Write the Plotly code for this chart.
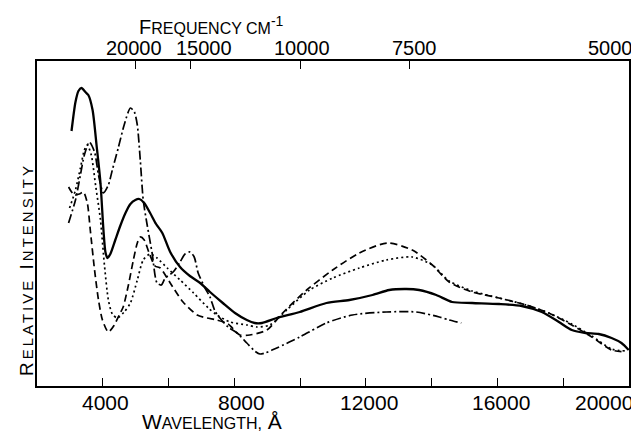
import plotly.graph_objects as go

# ---------------- data ----------------
# wavelength in Angstrom, relative intensity in arbitrary units
solid_wl = [3050, 3170, 3260, 3350, 3470, 3560, 3690, 3810, 3930, 4020, 4080, 4140, 4230, 4380,
            4530, 4690, 4840, 4990, 5110, 5260, 5440, 5620, 5810, 6050, 6350, 6650, 6960, 7260,
            7650, 8020, 8380, 8620, 8840, 9290, 9990, 10800, 11500, 12200, 12710, 13230, 13620,
            14140, 14620, 15230, 16050, 16740, 17350, 17870, 18260, 18680, 19080, 19470, 19770, 19990]
solid_int = [255, 284, 295, 298, 294, 291, 276, 241, 203, 156, 134, 128, 132, 146,
             160, 173, 182, 186, 187, 183, 173, 162, 153, 134, 119, 110, 103, 94,
             83, 73, 66, 63, 63, 68, 74, 83, 86, 91, 96, 97, 96,
             91, 84, 83, 82, 80, 74, 64, 56, 53, 52, 48, 43, 36]

dotted_wl = [2990, 3170, 3320, 3440, 3530, 3650, 3780, 3930, 4050, 4170, 4290, 4440, 4650, 4840,
             5050, 5230, 5440, 5650, 5960, 6350, 6760, 7210, 7470, 7870, 8380, 8680, 9080, 9590,
             10290, 10990, 11800, 12620, 13410, 14020, 14530, 15230, 16050, 16870, 17560, 18260,
             18870, 19470, 19900]
dotted_int = [178, 196, 218, 236, 241, 231, 201, 166, 121, 86, 72, 68, 74, 83,
              106, 126, 132, 128, 118, 106, 93, 78, 71, 64, 61, 59, 61, 76,
              96, 108, 118, 126, 129, 121, 105, 95, 88, 81, 73, 62,
              50, 37, 35]

dashed_wl = [2960, 3130, 3290, 3410, 3530, 3620, 3750, 3870, 3990, 4170, 4350, 4500, 4620, 4780,
             4930, 5050, 5140, 5260, 5410, 5590, 5750, 6050, 6440, 6870, 7170, 7470, 7810, 8170,
             8470, 8990, 9470, 10200, 10990, 11800, 12650, 13410, 14020, 14530, 15230, 16050,
             16870, 17560, 18260, 18870, 19470, 19900]
dashed_int = [199, 191, 192, 194, 183, 156, 116, 86, 66, 54, 61, 71, 79, 101,
              126, 143, 149, 146, 133, 120, 118, 103, 84, 71, 68, 66, 62, 51,
              51, 56, 73, 96, 116, 133, 143, 136, 121, 104, 94, 88,
              81, 73, 61, 49, 36, 34]

dashdot_wl = [2960, 3170, 3320, 3440, 3590, 3750, 3870, 4020, 4170, 4290, 4470, 4650, 4840, 4960,
              5050, 5140, 5230, 5350, 5500, 5650, 5780, 5900, 6140, 6350, 6500, 6650, 6780, 6900,
              7110, 7260, 7410, 7560, 7810, 8080, 8380, 8620, 8780, 8930, 9290, 9990, 10800,
              11590, 12620, 13530, 14230, 14530, 14900]
dashdot_int = [163, 186, 211, 231, 244, 234, 211, 193, 201, 216, 238, 261, 278, 274,
               261, 226, 186, 161, 133, 103, 101, 108, 114, 124, 132, 134, 129, 113,
               98, 89, 75, 68, 59, 53, 43, 35, 32, 33, 38, 49, 63,
               71, 74, 74, 69, 66, 63]

# axis ticks
wavelength_ticks = [4000, 6000, 8000, 10000, 12000, 14000, 16000, 18000, 20000]
wavelength_labels = [4000, 8000, 12000, 16000, 20000]
frequency_labels = [20000, 15000, 10000, 7500, 5000]   # cm^-1

# ---------------- styling ----------------
FONT = "Liberation Sans"
X_RANGE = [2000, 20000]
Y_RANGE = [0, 325]
bottom_label_shift = [3, 7, 3, 4, -25]     # px nudges of tick labels
top_label_shift = [-2, 14, 2, 5, -19]

fig = go.Figure()
series = [
    (solid_wl, solid_int, "solid", 2.3),
    (dotted_wl, dotted_int, "2px,3px", 1.7),
    (dashed_wl, dashed_int, "7px,4px", 1.7),
    (dashdot_wl, dashdot_int, "9px,3px,2px,3px", 1.7),
]
for wl, it, dash, w in series:
    fig.add_trace(go.Scatter(x=wl, y=it, mode="lines", showlegend=False, hoverinfo="skip",
                             line=dict(color="black", width=w, dash=dash,
                                       shape="spline", smoothing=0.7)))
# empty trace so the top (frequency) axis is drawn
fig.add_trace(go.Scatter(x=[None], y=[None], xaxis="x2", yaxis="y", showlegend=False,
                         mode="lines"))

freq_positions = [1e8 / f for f in frequency_labels]

annotations = []
for v, s in zip(wavelength_labels, bottom_label_shift):
    annotations.append(dict(x=v, y=-0.052, xref="x", yref="paper", text=str(v),
                            showarrow=False, xanchor="center", yanchor="middle", xshift=s,
                            font=dict(family=FONT, size=21, color="black")))
for f, p, s in zip(frequency_labels, freq_positions, top_label_shift):
    annotations.append(dict(x=p, y=1.04, xref="x", yref="paper", text=str(f),
                            showarrow=False, xanchor="center", yanchor="middle", xshift=s,
                            font=dict(family=FONT, size=20, color="black")))

small = "font-size:16px"
annotations.append(dict(x=0.296, y=-0.108, xref="paper", yref="paper", showarrow=False,
                        xanchor="center", yanchor="middle",
                        text=f"W<span style='{small}'>AVELENGTH,</span> Å",
                        font=dict(family=FONT, size=21, color="black")))
annotations.append(dict(x=0.295, y=1.108, xref="paper", yref="paper", showarrow=False,
                        xanchor="center", yanchor="middle",
                        text=f"F<span style='{small}'>REQUENCY CM</span><sup>-1</sup>",
                        font=dict(family=FONT, size=20, color="black")))
annotations.append(dict(x=-0.0168, y=0.357, xref="paper", yref="paper", showarrow=False,
                        xanchor="center", yanchor="middle", textangle=-90,
                        text=("<span style='letter-spacing:3px'>R<span style='font-size:15px'>ELATIVE</span> "
                              "I<span style='font-size:15px'>NTENSITY</span></span>"),
                        font=dict(family=FONT, size=19, color="black")))

# the page body has an 8px margin, so the figure is sized/offset to compensate
fig.update_layout(
    width=631, height=425,
    margin=dict(l=29, r=8, t=53, b=47),
    paper_bgcolor="white", plot_bgcolor="white",
    xaxis=dict(range=X_RANGE, showline=True, linecolor="black", linewidth=1.5,
               ticks="inside", ticklen=8, tickwidth=1.2, tickcolor="black",
               tickvals=wavelength_ticks, showticklabels=False,
               showgrid=False, zeroline=False),
    xaxis2=dict(range=X_RANGE, overlaying="x", side="top", showline=True,
                linecolor="black", linewidth=1.5, ticks="inside", ticklen=8,
                tickwidth=1.2, tickcolor="black", tickvals=freq_positions,
                showticklabels=False, showgrid=False, zeroline=False),
    yaxis=dict(range=Y_RANGE, showline=True, mirror=True, linecolor="black", linewidth=1.5,
               ticks="", showticklabels=False, showgrid=False, zeroline=False),
    annotations=annotations,
)

fig.write_html("out.html")
